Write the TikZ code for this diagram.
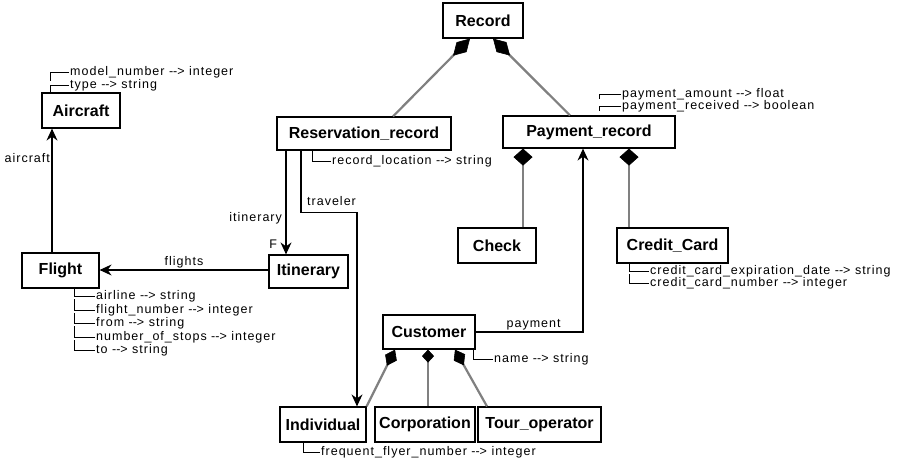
\documentclass[tikz,border=0pt]{standalone}
\usepackage{fontspec}
\usetikzlibrary{arrows.meta}
\newfontfamily\attrfont[LetterSpace=8]{Liberation Sans}
\newfontfamily\classfont{Liberation Sans}
\newcommand\maps{-\kern0pt-\kern0pt>}

\begin{document}
\begin{tikzpicture}[x=1pt,y=-1pt,
  cls/.style={draw, line width=1.2pt, inner sep=0pt, fill=white,
    font=\classfont\bfseries\fontsize{16}{18}\selectfont},
  attr/.style={font=\attrfont\fontsize{12.5}{13}\selectfont, inner sep=1pt, anchor=west},
  lbl/.style={font=\attrfont\fontsize{12.5}{13}\selectfont, inner sep=1.5pt},
  assoc/.style={draw, line width=1.2pt, -{Stealth[length=12pt,width=11pt,inset=4pt]}},
  comp/.style={draw=gray, line width=2.2pt,
    -{Diamond[color=black,fill=black,line width=0.6pt,length=17pt,width=19pt]}},
  compsmall/.style={comp, -{Diamond[color=black,fill=black,line width=0.6pt,length=13pt,width=12pt]}},
  compslant/.style={comp, -{Diamond[color=black,fill=black,line width=0.6pt,length=18pt,width=13pt]}},
  complong/.style={comp, -{Diamond[color=black,fill=black,line width=0.6pt,length=24pt,width=14pt]}},
  tree/.style={draw, line width=0.9pt},
]
\fill[white] (0,0) rectangle (904,462);
\useasboundingbox (0,0) rectangle (904,462);

% classes
\node[cls, minimum width=80pt,  minimum height=35pt] (record)   at (483,20.5)   {Record};
\node[cls, minimum width=78pt,  minimum height=35pt] (aircraft) at (81,110.5)   {Aircraft};
\node[cls, minimum width=174pt, minimum height=33pt] (resv)     at (364,133.5)  {Reservation\_record};
\node[cls, minimum width=172pt, minimum height=32pt] (payrec)   at (589,132)    {Payment\_record};
\node[cls, minimum width=78pt,  minimum height=35pt] (check)    at (497,245.5)  {Check};
\node[cls, minimum width=111pt, minimum height=35pt] (ccard)    at (672.5,245.5){Credit\_Card};
\node[cls, minimum width=77pt,  minimum height=35pt] (flight)   at (60.5,270.5) {Flight};
\node[cls, minimum width=79pt,  minimum height=33pt] (itin)     at (308.5,271.5){Itinerary};
\node[cls, minimum width=92pt,  minimum height=34pt] (customer) at (429,332)    {Customer};
\node[cls, minimum width=86pt,  minimum height=35pt] (indiv)    at (323,424.5)  {Individual};
\node[cls, minimum width=100pt, minimum height=35pt] (corp)     at (425,424.5)  {Corporation};
\node[cls, minimum width=123pt, minimum height=35pt] (tour)     at (539.5,424.5){Tour\_operator};

% composition (part-of) links
\draw[complong] ([xshift=29pt]resv.north)   -- ([xshift=-13pt]record.south);
\draw[complong] ([xshift=-19pt]payrec.north) -- ([xshift=10pt]record.south);
\draw[comp] ([xshift=26pt]check.north)    -- ([xshift=-66pt]payrec.south);
\draw[comp] ([xshift=-43.5pt]ccard.north) -- ([xshift=40pt]payrec.south);
\draw[compslant] (indiv.north east)          -- ([xshift=-34pt]customer.south);
\draw[compsmall] ([xshift=3pt]corp.north)    -- ([xshift=-1pt]customer.south);
\draw[compslant] ([xshift=-52.5pt]tour.north) -- ([xshift=26pt]customer.south);

% associations
\draw[assoc] ([xshift=-8.5pt]flight.north) -- node[lbl,pos=0.76,left]{aircraft} ([xshift=-29pt]aircraft.south);
\draw[assoc] ([yshift=1.5pt]itin.west) -- node[lbl,above]{flights} ([yshift=0.5pt]flight.east);
\draw[assoc] ([xshift=-78pt]resv.south) -- node[lbl,pos=0.65,left=2pt]{itinerary}
  node[lbl,pos=0.9,left=7pt]{F} ([xshift=-22.5pt]itin.north);
\draw[assoc] ([xshift=-63pt]resv.south) -- ++(0,62) coordinate (trv) -| ([xshift=34pt]indiv.north);
\node[lbl, anchor=base west, inner sep=0pt] at ([xshift=6pt,yshift=7pt]trv) {traveler};
\draw[assoc] (customer.east) -| node[lbl,pos=0.27,above]{payment} ([xshift=-6pt]payrec.south);

% attributes
\node[attr] (ac1) at (69,72) {model\_number \maps\ integer};
\node[attr] (ac2) at (69,85) {type \maps\ string};
\draw[tree] (ac1.west) -| ++(-19,9);
\draw[tree] (ac2.west) -| ++(-19,8);

\node[attr] (pr1) at (621,94)  {payment\_amount \maps\ float};
\node[attr] (pr2) at (621,106) {payment\_received \maps\ boolean};
\draw[tree] (pr1.west) -| ++(-22,5);
\draw[tree] (pr2.west) -| ++(-22,5);

\node[attr] (rl) at (331,161) {record\_location \maps\ string};
\draw[tree] (rl.west) -| ++(-19,-11);

\node[attr] (fl1) at (95,296.5) {airline \maps\ string};
\node[attr] (fl2) at (95,310)   {flight\_number \maps\ integer};
\node[attr] (fl3) at (95,323.5) {from \maps\ string};
\node[attr] (fl4) at (95,337)   {number\_of\_stops \maps\ integer};
\node[attr] (fl5) at (95,350.5) {to \maps\ string};
\draw[tree] (fl1.west) -| ++(-21,-8.5);
\foreach \n in {fl2,fl3,fl4,fl5} \draw[tree] (\n.west) -| ++(-21,-11);

\node[attr] (cc1) at (649,271)   {credit\_card\_expiration\_date \maps\ string};
\node[attr] (cc2) at (649,283.5) {credit\_card\_number \maps\ integer};
\draw[tree] (cc1.west) -| ++(-20,-8);
\draw[tree] (cc2.west) -| ++(-20,-10);

\node[attr] (cn) at (493,359.5) {name \maps\ string};
\draw[tree] (cn.west) -| ++(-20,-10.5);

\node[attr] (ff) at (320,452) {frequent\_flyer\_number \maps\ integer};
\draw[tree] (ff.west) -| ++(-17,-10);
\end{tikzpicture}
\end{document}
